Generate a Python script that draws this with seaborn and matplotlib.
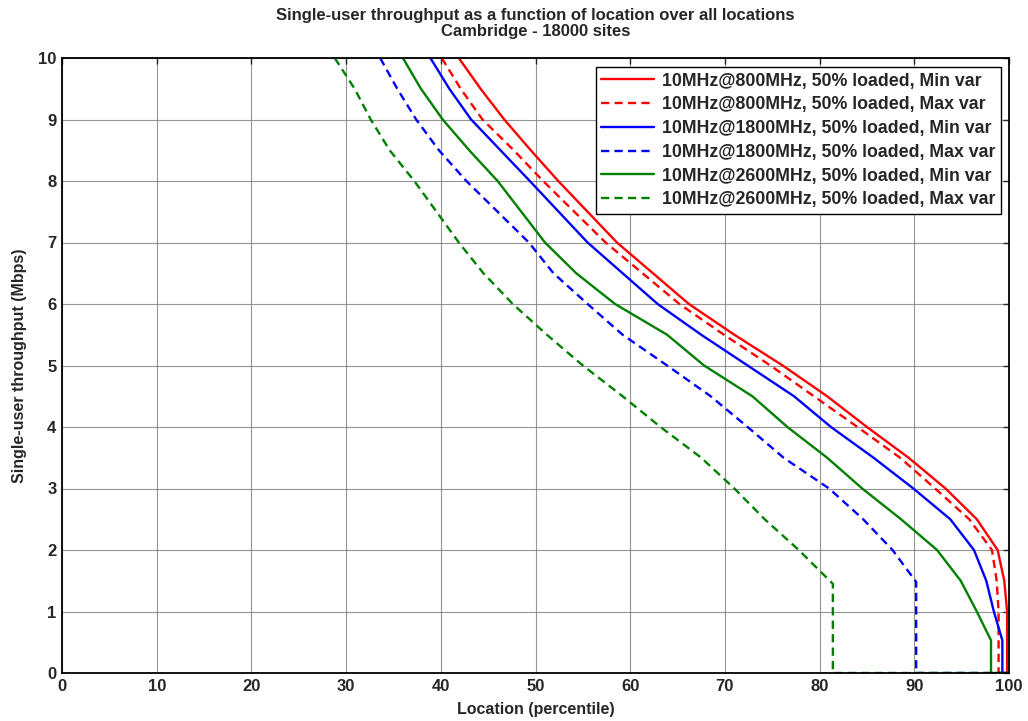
import numpy as np
import pandas as pd
import matplotlib
matplotlib.use("Agg")
import matplotlib.pyplot as plt
import seaborn as sns

# ============================================================
# DATA
# ============================================================

LABELS = [
    "10MHz@800MHz, 50% loaded, Min var",
    "10MHz@800MHz, 50% loaded, Max var",
    "10MHz@1800MHz, 50% loaded, Min var",
    "10MHz@1800MHz, 50% loaded, Max var",
    "10MHz@2600MHz, 50% loaded, Min var",
    "10MHz@2600MHz, 50% loaded, Max var",
]

# throughput levels (Mbps) and location percentile at each level
red_min_y = [10, 9.5, 9, 8.5, 8, 7, 6, 5.5, 5, 4.5, 4, 3.5, 3, 2.5, 2, 1.5, 1, 0, 0]
red_min_x = [41.9, 44.2, 46.7, 49.5, 52.4, 58.6, 66.2, 71.0, 76.1, 80.8, 85.0, 89.4,
             93.3, 96.6, 98.8, 99.5, 99.8, 99.8, 100]

red_max_y = [10, 9.5, 9, 8.5, 8, 7, 6, 5.5, 5, 4.5, 4, 3.5, 3, 2.5, 2, 1.5, 1, 0, 0]
red_max_x = [40.1, 42.1, 44.4, 47.7, 50.8, 57.4, 65.2, 69.9, 74.8, 79.4, 84.0, 88.5,
             92.2, 95.8, 98.2, 98.7, 98.9, 98.9, 100]

blue_min_y = [10, 9.5, 9, 8.5, 8, 7, 6, 5.5, 5, 4.5, 4, 3.5, 3, 2.5, 2, 1.5, 1, 0.53, 0, 0]
blue_min_x = [38.9, 40.9, 43.2, 46.3, 49.4, 55.5, 62.9, 67.5, 72.4, 77.3, 81.2, 85.7,
              89.9, 93.8, 96.3, 97.6, 98.4, 99.3, 99.3, 100]

blue_max_y = [10, 9.5, 9, 8.5, 8, 7, 6.5, 6, 5.5, 5, 4.5, 4, 3.5, 3, 2.5, 2, 1.48, 0, 0]
blue_max_x = [33.6, 35.4, 37.4, 39.8, 42.7, 49.3, 51.9, 55.5, 59.2, 63.9, 68.5, 72.4,
              76.2, 81.0, 84.6, 87.7, 90.2, 90.2, 100]

green_min_y = [10, 9.5, 9, 8.5, 8, 7, 6.5, 6, 5.5, 5, 4.5, 4, 3.5, 3, 2.5, 2, 1.5, 1,
               0.53, 0, 0]
green_min_x = [36.0, 37.9, 40.2, 43.0, 46.0, 51.0, 54.3, 58.4, 63.9, 67.8, 72.9, 76.6,
               80.8, 84.5, 88.6, 92.4, 94.9, 96.6, 98.1, 98.1, 100]

green_max_y = [10, 9.5, 9, 8.5, 8, 7, 6.5, 6, 5.5, 5, 4.5, 4, 3.5, 3, 2.5, 2, 1.45, 0, 0]
green_max_x = [28.8, 30.9, 32.6, 34.6, 37.2, 41.9, 44.5, 47.6, 51.2, 55.0, 59.2, 63.2,
               67.5, 71.0, 74.2, 77.8, 81.4, 81.4, 100]

SERIES_X = [red_min_x, red_max_x, blue_min_x, blue_max_x, green_min_x, green_max_x]
SERIES_Y = [red_min_y, red_max_y, blue_min_y, blue_max_y, green_min_y, green_max_y]
COLORS = ["#ff0000", "#ff0000", "#0000ff", "#0000ff", "#008000", "#008000"]
STYLES = ["-", "--", "-", "--", "-", "--"]


def main():
    sns.set_style("white")
    plt.rcParams["font.family"] = ["Liberation Sans", "DejaVu Sans"]
    plt.rcParams["font.weight"] = "bold"

    fig = plt.figure(figsize=(10.28, 7.21), dpi=100)
    ax = fig.add_axes([62 / 1028, 48 / 721, 947 / 1028, 615 / 721])

    for label, xs, ys, color, ls in zip(LABELS, SERIES_X, SERIES_Y, COLORS, STYLES):
        df = pd.DataFrame({"x": xs, "y": ys})
        sns.lineplot(
            data=df, x="x", y="y", ax=ax, sort=False, estimator=None,
            color=color, linewidth=1.7, label=label,
        )
        if ls == "--":
            ax.lines[-1].set_dashes((3.5, 2.2))

    ax.set_xlim(0, 100)
    ax.set_ylim(0, 10)
    ax.set_xticks(np.arange(0, 101, 10))
    ax.set_yticks(np.arange(0, 11, 1))
    ax.grid(True, color="#7a7a7a", linewidth=0.8, alpha=0.8)
    ax.tick_params(direction="in", length=4, width=1, top=True, right=True,
                   labelsize=12, pad=4)
    for lab in ax.get_xticklabels() + ax.get_yticklabels():
        lab.set_fontweight("bold")
    for sp in ax.spines.values():
        sp.set_color("black")
        sp.set_linewidth(1.3)

    ax.set_xlabel("Location (percentile)", fontsize=11.5, fontweight="bold", labelpad=6)
    ax.set_ylabel("Single-user throughput (Mbps)", fontsize=11.5, fontweight="bold",
                  labelpad=8)
    ax.set_title("Single-user throughput as a function of location over all locations\n"
                 "Cambridge - 18000 sites", fontsize=12, fontweight="bold", pad=16,
                 linespacing=1.05)

    leg = ax.legend(loc="upper right", bbox_to_anchor=(0.9916, 0.985), fontsize=12.8,
                    frameon=True, fancybox=False, edgecolor="black", framealpha=1,
                    handlelength=3.0, handletextpad=0.45, borderpad=0.3,
                    labelspacing=0.38, borderaxespad=0)
    leg.get_frame().set_linewidth(1.0)
    for t in leg.get_texts():
        t.set_fontweight("bold")

    fig.savefig("out.png", dpi=100, facecolor="white")


if __name__ == "__main__":
    main()
